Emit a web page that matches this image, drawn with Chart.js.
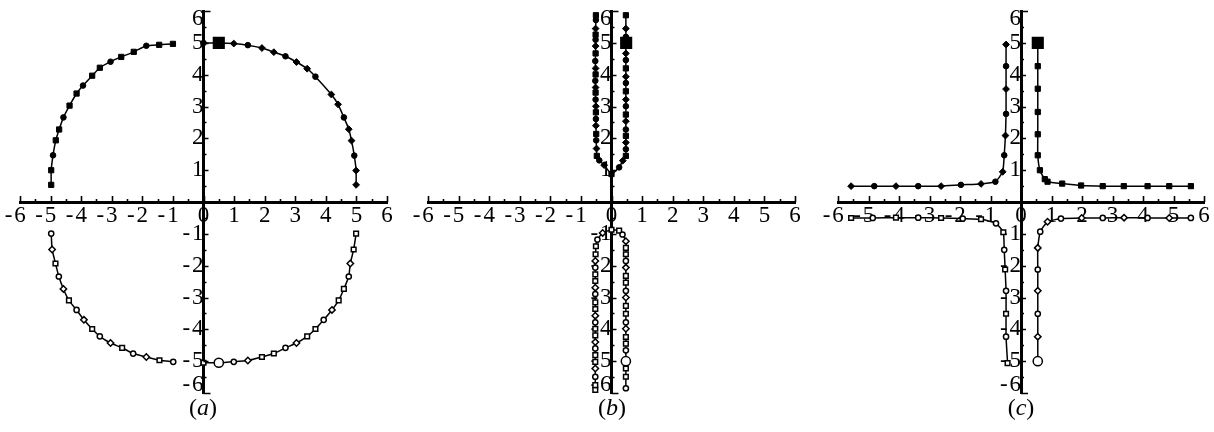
<!DOCTYPE html>
<html>
<head>
<meta charset="utf-8">
<script src="https://cdn.jsdelivr.net/npm/chart.js@4.4.1/dist/chart.umd.min.js"></script>
<style>
  html, body { margin: 0; padding: 0; background: #fff; overflow: hidden; width: 1214px; height: 432px; }
  .panel { position: absolute; top: -10px; width: 400px; height: 445px; }
  .cap { position: absolute; top: 394px; width: 80px; text-align: center;
         font: 24px "Liberation Serif", "DejaVu Serif", serif; color: #000; }
</style>
</head>
<body>
<div class="panel" style="left:0px"><canvas id="chartA" width="400" height="445"></canvas></div>
<div class="panel" style="left:408px"><canvas id="chartB" width="400" height="445"></canvas></div>
<div class="panel" style="left:818px"><canvas id="chartC" width="400" height="445"></canvas></div>
<div class="cap" style="left:163px">(<i>a</i>)</div>
<div class="cap" style="left:572px">(<i>b</i>)</div>
<div class="cap" style="left:981px">(<i>c</i>)</div>
<script>
// ---- axis ticks ----
const tickValues = [-6, -5, -4, -3, -2, -1, 0, 1, 2, 3, 4, 5, 6];
const xTickLabels = ['-6', '-5', '-4', '-3', '-2', '-1', '0', '1', '2', '3', '4', '5', '6'];
const yTickLabels = ['-6', '-5', '-4', '-3', '-2', '-1', '', '1', '2', '3', '4', '5', '6'];

// ---- panel (a) ----
const aUpperLeftX  = [-4.98, -4.98, -4.92, -4.83, -4.72, -4.58, -4.38, -4.15, -3.94, -3.64, -3.39, -3.04, -2.69, -2.28, -1.87, -1.45, -1.00];
const aUpperLeftY  = [0.54, 1.00, 1.47, 1.94, 2.28, 2.66, 3.03, 3.41, 3.66, 3.97, 4.22, 4.41, 4.56, 4.72, 4.91, 4.94, 4.97];
const aUpperRightX = [0.00, 0.50, 0.99, 1.45, 1.91, 2.30, 2.68, 3.04, 3.39, 3.66, 4.18, 4.40, 4.59, 4.75, 4.84, 4.93, 4.99, 4.99];
const aUpperRightY = [5.00, 5.00, 4.98, 4.93, 4.84, 4.71, 4.58, 4.40, 4.19, 3.94, 3.38, 3.07, 2.66, 2.29, 1.93, 1.46, 0.99, 0.54];
const aLowerLeftX  = [-4.98, -4.95, -4.84, -4.73, -4.58, -4.40, -4.15, -3.91, -3.64, -3.39, -3.04, -2.66, -2.30, -1.87, -1.44, -0.99];
const aLowerLeftY  = [-0.99, -1.49, -1.93, -2.34, -2.73, -3.09, -3.39, -3.70, -3.99, -4.22, -4.43, -4.58, -4.76, -4.87, -4.97, -5.02];
const aLowerRightX = [0.00, 0.50, 0.99, 1.45, 1.91, 2.30, 2.68, 3.04, 3.39, 3.66, 3.93, 4.20, 4.42, 4.59, 4.75, 4.80, 4.91, 4.99];
const aLowerRightY = [-5.05, -5.05, -5.02, -4.98, -4.87, -4.76, -4.58, -4.43, -4.22, -3.99, -3.70, -3.39, -3.09, -2.73, -2.34, -1.93, -1.49, -0.99];
const aStartUpper  = [0.50, 5.00];
const aStartLower  = [0.50, -5.05];

// ---- panel (b) ----
const bUpperX = [-0.51, -0.51, -0.52, -0.52, -0.52, -0.52, -0.52, -0.53, -0.52, -0.52, -0.53, -0.52, -0.52, -0.52, -0.51, -0.51, -0.51, -0.51, -0.50, -0.50, -0.49, -0.48,
                 -0.40, -0.24, 0.00, 0.25, 0.37,
                 0.47, 0.47, 0.47, 0.47, 0.47, 0.47, 0.47, 0.47, 0.47, 0.47, 0.47, 0.47, 0.47, 0.47, 0.47, 0.47, 0.47, 0.47, 0.47];
const bUpperY = [5.87, 5.72, 5.45, 5.26, 5.10, 4.90, 4.67, 4.43, 4.20, 4.01, 3.81, 3.60, 3.44, 3.22, 3.01, 2.82, 2.61, 2.40, 2.14, 1.94, 1.68, 1.45,
                 1.31, 1.16, 0.88, 1.09, 1.30,
                 1.45, 1.66, 1.87, 2.08, 2.28, 2.54, 2.75, 3.01, 3.22, 3.48, 3.74, 3.94, 4.20, 4.46, 4.67, 4.98, 5.19, 5.45, 5.87];
const bLowerX = [-0.53, -0.53, -0.53, -0.53, -0.53, -0.53, -0.53, -0.53, -0.53, -0.53, -0.53, -0.53, -0.53, -0.53, -0.53, -0.53, -0.53, -0.53, -0.53, -0.53, -0.52, -0.51,
                 -0.46, -0.29, 0.00, 0.25, 0.36,
                 0.47, 0.47, 0.47, 0.47, 0.47, 0.47, 0.47, 0.47, 0.47, 0.47, 0.47, 0.47, 0.47, 0.47, 0.47, 0.47, 0.47, 0.47, 0.47, 0.47];
const bLowerY = [-5.90, -5.75, -5.49, -5.23, -5.02, -4.81, -4.60, -4.40, -4.19, -3.98, -3.78, -3.57, -3.36, -3.15, -2.89, -2.69, -2.48, -2.27, -2.06, -1.85, -1.64, -1.39,
                 -1.18, -0.97, -0.87, -0.90, -1.02,
                 -1.23, -1.44, -1.64, -1.85, -2.06, -2.32, -2.53, -2.79, -3.00, -3.26, -3.51, -3.78, -3.98, -4.24, -4.45, -4.66, -4.97, -5.23, -5.49, -5.85];
const bStartUpper = [0.48, 5.00];
const bStartLower = [0.47, -5.00];

// ---- panel (c) ----
const cUpperLeftX  = [-5.57, -4.81, -4.10, -3.37, -2.62, -1.97, -1.31, -0.84, -0.60, -0.55, -0.51, -0.49, -0.49, -0.49, -0.49];
const cUpperLeftY  = [0.50, 0.50, 0.50, 0.50, 0.50, 0.54, 0.57, 0.64, 0.95, 1.47, 2.09, 2.77, 3.55, 4.27, 4.95];
const cUpperRightX = [0.55, 0.55, 0.55, 0.55, 0.55, 0.55, 0.62, 0.78, 0.87, 1.35, 1.97, 2.68, 3.37, 4.15, 4.86, 5.57];
const cUpperRightY = [5.00, 4.27, 3.56, 2.83, 2.13, 1.47, 1.00, 0.72, 0.64, 0.58, 0.52, 0.50, 0.50, 0.50, 0.50, 0.50];
const cLowerLeftX  = [-5.57, -4.86, -4.10, -3.37, -2.62, -1.91, -1.31, -0.82, -0.58, -0.55, -0.52, -0.49, -0.49, -0.49, -0.44];
const cLowerLeftY  = [-0.50, -0.50, -0.49, -0.49, -0.50, -0.52, -0.54, -0.67, -0.95, -1.50, -2.12, -2.79, -3.51, -4.23, -5.06];
const cLowerRightX = [0.55, 0.55, 0.55, 0.55, 0.55, 0.55, 0.63, 0.87, 1.31, 1.99, 2.68, 3.38, 4.15, 4.86, 5.57];
const cLowerRightY = [-5.00, -4.23, -3.51, -2.79, -2.12, -1.44, -0.93, -0.62, -0.52, -0.50, -0.50, -0.49, -0.50, -0.50, -0.50];
const cStartUpper  = [0.55, 5.00];
const cStartLower  = [0.55, -5.00];

// ---------------------------------------------------------------
const toPoints = (xs, ys) => xs.map((x, i) => ({ x, y: ys[i] }));
const FAMILY = '"Liberation Serif", "DejaVu Serif", serif';
const FONT = { family: FAMILY, size: 23 };

// a minus sign set a hair apart from its digit; on the horizontal axis a
// trailing space balances it so the digit itself sits centred under the tick
function spacedMinus(label, balance) {
  if (!label.startsWith('-')) return label;
  return '-\u200A' + label.slice(1) + (balance ? '\u2004\u200A' : '');
}

const solidStyles = ['rect', 'circle', 'rectRot'];
const openStyles  = ['rect', 'rect', 'circle', 'rectRot'];
const solidRadius = { rect: 3.7, circle: 2.8, rectRot: 3.4 };
const openRadius  = { rect: 3.3, circle: 2.6, rectRot: 3.2 };

function curve(xs, ys, filled, styles) {
  const pick = (ctx) => styles[ctx.dataIndex % styles.length];
  return {
    data: toPoints(xs, ys),
    showLine: true,
    borderColor: '#000',
    borderWidth: 1.5,
    tension: 0.15,
    clip: false,
    pointStyle: pick,
    pointRadius: (ctx) => (filled ? solidRadius : openRadius)[pick(ctx)],
    pointBorderWidth: filled ? 1 : 1.5,
    pointBorderColor: '#000',
    pointBackgroundColor: filled ? '#000' : '#fff'
  };
}

function startMark(pt, filled) {
  return {
    data: [{ x: pt[0], y: pt[1] }],
    showLine: false,
    clip: false,
    pointStyle: filled ? 'rect' : 'circle',
    pointRadius: filled ? 7.5 : 4.6,
    pointBorderWidth: 1.5,
    pointBorderColor: '#000',
    pointBackgroundColor: filled ? '#000' : '#fff'
  };
}

// short tick marks every half unit: upward on the x axis, rightward on the y axis
const halfTicks = {
  id: 'halfTicks',
  afterDatasetsDraw(chart) {
    const { ctx, scales: { x, y } } = chart;
    const x0 = x.getPixelForValue(0);
    const y0 = y.getPixelForValue(0);
    ctx.save();
    ctx.strokeStyle = '#000';
    ctx.lineWidth = 1.6;
    ctx.beginPath();
    for (let v = -6; v <= 6; v += 0.5) {
      const whole = Number.isInteger(v);
      const px = Math.round(x.getPixelForValue(v)) + 0.5;
      const lenX = whole ? 6 : 3;
      ctx.moveTo(px, y0);
      ctx.lineTo(px, y0 - lenX);
      if (v !== 0) {
        const py = Math.round(y.getPixelForValue(v)) + 0.5;
        const lenY = Math.abs(v) === 6 ? 7 : (whole ? 5 : 3);
        ctx.moveTo(x0, py);
        ctx.lineTo(x0 + lenY, py);
      }
    }
    ctx.stroke();
    ctx.restore();
  }
};

// end labels of the vertical axis are tucked inside the axis range
const yTickFont = (ctx) => {
  const v = ctx.tick ? ctx.tick.value : 0;
  return Math.abs(v) === 6 ? { family: FAMILY, size: 23, lineHeight: 0.7 } : FONT;
};

function makeChart(id, datasets, padRight) {
  return new Chart(document.getElementById(id), {
    type: 'scatter',
    data: { datasets },
    plugins: [halfTicks],
    options: {
      responsive: false,
      animation: false,
      events: [],
      layout: { padding: { left: 20, right: padRight, top: 18, bottom: 42 } },
      plugins: { legend: { display: false }, tooltip: { enabled: false }, title: { display: false } },
      scales: {
        x: {
          type: 'linear',
          position: { y: 0 },
          min: -6, max: 6,
          afterBuildTicks: (s) => { s.ticks = tickValues.map(v => ({ value: v })); },
          grid: { display: false, drawTicks: false },
          border: { display: true, color: '#000', width: 3 },
          ticks: {
            autoSkip: false, maxRotation: 0, padding: 0, color: '#000', font: FONT,
            callback: (v, i) => spacedMinus(xTickLabels[i], true)
          }
        },
        y: {
          type: 'linear',
          position: { x: 0 },
          min: -6, max: 6,
          afterBuildTicks: (s) => { s.ticks = tickValues.map(v => ({ value: v })); },
          grid: { display: false, drawTicks: false },
          border: { display: true, color: '#000', width: 3 },
          ticks: {
            autoSkip: false, padding: 5, color: '#000', font: yTickFont,
            callback: (v, i) => {
              const t = spacedMinus(yTickLabels[i], false);
              if (v === 6) return ['', t];
              if (v === -6) return [t, ''];
              return t;
            }
          }
        }
      }
    }
  });
}

makeChart('chartA', [
  startMark(aStartUpper, true),
  startMark(aStartLower, false),
  curve(aUpperLeftX, aUpperLeftY, true, ['rect', 'rect', 'circle']),
  curve(aUpperRightX, aUpperRightY, true, ['circle', 'rectRot', 'rectRot']),
  curve(aLowerLeftX, aLowerLeftY, false, ['circle', 'rectRot', 'rect']),
  curve(aLowerRightX, aLowerRightY, false, openStyles)
], 13);

makeChart('chartB', [
  startMark(bStartUpper, true),
  startMark(bStartLower, false),
  curve(bUpperX, bUpperY, true, solidStyles),
  curve(bLowerX, bLowerY, false, openStyles)
], 13);

makeChart('chartC', [
  startMark(cStartUpper, true),
  startMark(cStartLower, false),
  curve(cUpperLeftX, cUpperLeftY, true, ['rectRot', 'circle']),
  curve(cUpperRightX, cUpperRightY, true, ['rect']),
  curve(cLowerLeftX, cLowerLeftY, false, ['rect', 'circle']),
  curve(cLowerRightX, cLowerRightY, false, ['circle', 'rectRot'])
], 14);
</script>
</body>
</html>
